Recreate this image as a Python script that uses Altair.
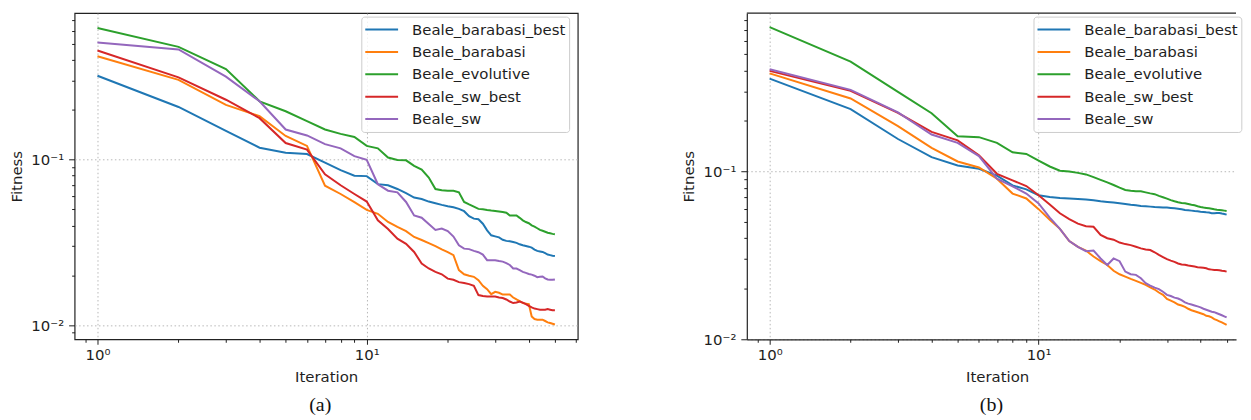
import altair as alt
import pandas as pd

iterations = list(range(1, 51))
series_names = ["Beale_barabasi_best", "Beale_barabasi", "Beale_evolutive", "Beale_sw_best", "Beale_sw"]
series_colors = ["#1f77b4", "#ff7f0e", "#2ca02c", "#d62728", "#9467bd"]

# ---- panel (a) ----
a_barabasi_best = [0.321, 0.208, 0.149, 0.118, 0.110, 0.108, 0.096, 0.0865, 0.0800, 0.0795,
                   0.0711, 0.0700, 0.0665, 0.0627, 0.0590, 0.0578, 0.0558, 0.0545, 0.0533, 0.0523,
                   0.0516, 0.0504, 0.0488, 0.0456, 0.0440, 0.0436, 0.0410, 0.0374, 0.0349, 0.0344,
                   0.0339, 0.0328, 0.0323, 0.0321, 0.0318, 0.0314, 0.0308, 0.0304, 0.0301, 0.0298,
                   0.0294, 0.0286, 0.0281, 0.0279, 0.0277, 0.0272, 0.0267, 0.0265, 0.0263, 0.0262]
a_barabasi = [0.421, 0.303, 0.214, 0.183, 0.139, 0.121, 0.0696, 0.062, 0.0553, 0.0497,
              0.0471, 0.042, 0.0392, 0.037, 0.0341, 0.0327, 0.0313, 0.0300, 0.0287, 0.0276,
              0.0265, 0.0215, 0.0203, 0.0199, 0.0196, 0.0187, 0.0173, 0.0165, 0.0154, 0.0159,
              0.0157, 0.0153, 0.0153, 0.0153, 0.0147, 0.0143, 0.0140, 0.0136, 0.0135, 0.0134,
              0.0113, 0.0109, 0.0108, 0.0108, 0.0108, 0.0106, 0.0104, 0.0103, 0.0102, 0.0101]
a_evolutive = [0.624, 0.480, 0.352, 0.225, 0.196, 0.171, 0.152, 0.143, 0.137, 0.121,
               0.117, 0.103, 0.0996, 0.099, 0.0917, 0.087, 0.078, 0.0664, 0.0653, 0.0649,
               0.0649, 0.0635, 0.0555, 0.0536, 0.052, 0.0504, 0.0502, 0.0497, 0.0493, 0.049,
               0.0486, 0.0482, 0.0478, 0.046, 0.046, 0.046, 0.0445, 0.043, 0.042, 0.0413,
               0.0401, 0.0394, 0.0385, 0.0376, 0.0372, 0.0367, 0.0362, 0.0359, 0.0356, 0.0354]
a_sw_best = [0.456, 0.314, 0.230, 0.178, 0.126, 0.115, 0.0816, 0.070, 0.062, 0.0558,
             0.043, 0.0381, 0.0333, 0.031, 0.0277, 0.0236, 0.022, 0.021, 0.0203, 0.0191,
             0.0188, 0.0182, 0.018, 0.0177, 0.0173, 0.0152, 0.015, 0.0149, 0.0149, 0.0149,
             0.0147, 0.0146, 0.0143, 0.0139, 0.0136, 0.0137, 0.0139, 0.0137, 0.0134, 0.0131,
             0.0128, 0.0126, 0.0125, 0.0124, 0.0124, 0.0124, 0.0125, 0.0124, 0.0123, 0.0123]
a_sw = [0.509, 0.463, 0.317, 0.225, 0.152, 0.140, 0.124, 0.117, 0.105, 0.0996,
        0.071, 0.0649, 0.0634, 0.0555, 0.046, 0.0446, 0.0408, 0.0376, 0.0383, 0.037,
        0.0343, 0.0304, 0.029, 0.0288, 0.0281, 0.0276, 0.0267, 0.0247, 0.0247, 0.0247,
        0.0244, 0.0242, 0.0237, 0.0231, 0.022, 0.022, 0.0215, 0.021, 0.0207, 0.0204,
        0.0202, 0.0199, 0.0195, 0.0196, 0.0197, 0.0192, 0.0189, 0.0188, 0.0188, 0.0189]

# ---- panel (b) ----
b_barabasi_best = [0.357, 0.235, 0.156, 0.1216, 0.1086, 0.1037, 0.0944, 0.0826, 0.0782, 0.0721,
                   0.0705, 0.0695, 0.069, 0.0685, 0.068, 0.0673, 0.0664, 0.0658, 0.0652, 0.0646,
                   0.064, 0.0633, 0.0628, 0.0623, 0.062, 0.0617, 0.0614, 0.0612, 0.0609, 0.0609,
                   0.0606, 0.0603, 0.060, 0.0595, 0.0589, 0.0587, 0.0584, 0.0581, 0.0579, 0.0576,
                   0.0574, 0.0571, 0.0569, 0.0564, 0.0564, 0.0566, 0.0566, 0.0561, 0.0558, 0.0553]
b_barabasi = [0.384, 0.272, 0.186, 0.138, 0.1146, 0.1056, 0.0905, 0.0738, 0.069, 0.0596,
              0.0515, 0.0455, 0.0385, 0.0355, 0.0338, 0.0311, 0.0292, 0.0277, 0.0256, 0.0244,
              0.0236, 0.0229, 0.0223, 0.0217, 0.0211, 0.0204, 0.0198, 0.019, 0.0184, 0.0174,
              0.017, 0.0166, 0.0161, 0.0159, 0.0156, 0.0152, 0.0149, 0.0147, 0.0145, 0.0143,
              0.0141, 0.0138, 0.0137, 0.0135, 0.0132, 0.013, 0.0128, 0.0126, 0.0124, 0.0122]
b_evolutive = [0.724, 0.451, 0.298, 0.222, 0.162, 0.160, 0.148, 0.130, 0.127, 0.116,
               0.107, 0.101, 0.100, 0.098, 0.096, 0.0925, 0.089, 0.086, 0.083, 0.080,
               0.0775, 0.0767, 0.0763, 0.0761, 0.075, 0.074, 0.0732, 0.0715, 0.0702, 0.0689,
               0.0675, 0.0664, 0.0655, 0.0649, 0.0646, 0.064, 0.0633, 0.0628, 0.062, 0.0614,
               0.0609, 0.0606, 0.0603, 0.060, 0.0595, 0.0591, 0.0589, 0.0587, 0.0584, 0.0581]
b_sw_best = [0.397, 0.302, 0.223, 0.172, 0.153, 0.125, 0.0968, 0.0885, 0.0818, 0.0721,
             0.0636, 0.0563, 0.052, 0.0489, 0.0472, 0.0468, 0.0418, 0.040, 0.0392, 0.0377,
             0.0369, 0.0364, 0.0356, 0.0348, 0.0343, 0.034, 0.033, 0.0318, 0.0309, 0.030,
             0.0294, 0.0289, 0.0283, 0.0279, 0.0278, 0.0275, 0.0273, 0.0271, 0.0269, 0.0268,
             0.0267, 0.0265, 0.0261, 0.026, 0.0259, 0.0259, 0.0258, 0.0256, 0.0255, 0.0253]
b_sw = [0.406, 0.306, 0.225, 0.166, 0.148, 0.1235, 0.0905, 0.0815, 0.0738, 0.0644,
        0.053, 0.0455, 0.0385, 0.0355, 0.0335, 0.0338, 0.0303, 0.0277, 0.0303, 0.0292,
        0.0253, 0.0244, 0.0242, 0.0231, 0.0216, 0.0209, 0.0203, 0.0199, 0.0192, 0.0184,
        0.0181, 0.0177, 0.0175, 0.0171, 0.0166, 0.0163, 0.0161, 0.0159, 0.0157, 0.0155,
        0.0152, 0.015, 0.0148, 0.0146, 0.0145, 0.0143, 0.0141, 0.0139, 0.0137, 0.0135]

x_tick_values = [0.9, 1, 2, 3, 4, 5, 6, 7, 8, 9, 10, 20, 30, 40, 50, 60]
a_y_tick_values = [0.009, 0.01, 0.02, 0.03, 0.04, 0.05, 0.06, 0.07, 0.08, 0.09,
                   0.1, 0.2, 0.3, 0.4, 0.5, 0.6, 0.7]
b_y_tick_values = [0.01, 0.02, 0.03, 0.04, 0.05, 0.06, 0.07, 0.08, 0.09,
                   0.1, 0.2, 0.3, 0.4, 0.5, 0.6, 0.7, 0.8]
a_x_domain = [0.8225, 60.8]
b_x_domain = [0.8225, 54.2]   # right part of panel (b) is cut off in the original figure
a_y_domain = [0.00822, 0.767]
b_y_domain = [0.01, 0.877]


def long_frame(series_lists):
    rows = []
    for k, (name, vals) in enumerate(zip(series_names, series_lists)):
        for it, v in zip(iterations, vals):
            rows.append({"Iteration": it, "Fitness": v, "series": name, "k": k})
    return pd.DataFrame(rows)


FONT = "DejaVu Sans"
TXT = "#1e1e1e"
FRAME = "#222222"
H = 328

x_major = "datum.value == 1 || datum.value == 10"
y_major = "datum.value == 0.1 || datum.value == 0.01"


def make_panel(df, width, x_domain, y_domain, y_ticks, caption, full_frame, x_title_x, cap_dx):
    x_axis = alt.Axis(
        values=x_tick_values,
        labelExpr="datum.value == 1 ? '10⁰' : datum.value == 10 ? '10¹' : ''",
        tickSize={"condition": {"test": x_major, "value": 5}, "value": 3},
        gridOpacity={"condition": {"test": x_major, "value": 1}, "value": 0},
        grid=True, gridColor="#b0b0b0", gridDash=[1.5, 2.5], gridWidth=0.9,
        domain=not full_frame, domainColor=FRAME, domainWidth=1.2,
        tickColor=TXT, tickWidth=1,
        labelColor=TXT, labelFont=FONT, labelFontSize=15, labelPadding=3,
        labelOverlap=False, labelFlush=False,
        title="Iteration", titleFont=FONT, titleFontSize=15, titleFontWeight="normal",
        titleColor=TXT, titlePadding=7, titleX=x_title_x,
    )
    y_axis = alt.Axis(
        values=y_ticks,
        labelExpr="datum.value == 0.1 ? '10⁻¹' : datum.value == 0.01 ? '10⁻²' : ''",
        tickSize={"condition": {"test": y_major, "value": 6}, "value": 3},
        gridOpacity={"condition": {"test": y_major, "value": 1}, "value": 0},
        grid=True, gridColor="#b0b0b0", gridDash=[1.5, 2.5], gridWidth=0.9,
        domain=not full_frame, domainColor=FRAME, domainWidth=1.2,
        tickColor=TXT, tickWidth=1,
        labelColor=TXT, labelFont=FONT, labelFontSize=15, labelPadding=5,
        labelOverlap=False, labelFlush=False,
        title="Fitness", titleFont=FONT, titleFontSize=15, titleFontWeight="normal",
        titleColor=TXT, titlePadding=6.5,
    )
    legend = alt.Legend(
        title=None, orient="none", legendX=288.3, legendY=3.5,
        symbolType="stroke", symbolSize=1089, symbolStrokeWidth=2, clipHeight=20,
        labelFont=FONT, labelFontSize=15, labelColor=TXT, labelOffset=13, labelLimit=400,
        rowPadding=2.5, padding=3, fillColor="rgba(255,255,255,0.8)",
        strokeColor="#cccccc", cornerRadius=3,
    )
    lines = alt.Chart(df).mark_line(strokeWidth=2, interpolate="linear").encode(
        x=alt.X("Iteration:Q", scale=alt.Scale(type="log", domain=x_domain, nice=False), axis=x_axis),
        y=alt.Y("Fitness:Q", scale=alt.Scale(type="log", domain=y_domain, nice=False), axis=y_axis),
        color=alt.Color("series:N", scale=alt.Scale(domain=series_names, range=series_colors),
                        legend=legend, sort=series_names),
        order=alt.Order("k:Q"),
    )
    layers = [lines]
    if full_frame:
        view = alt.ViewBackground(stroke=FRAME, strokeWidth=1.2)
    else:
        view = alt.ViewBackground(stroke="transparent")
        top_line = alt.Chart(pd.DataFrame({"edge": ["top"]})).mark_rule(
            color=FRAME, strokeWidth=1.2
        ).encode(x=alt.value(0), x2=alt.value(width), y=alt.value(0))
        layers.append(top_line)
    return alt.layer(*layers).properties(
        width=width, height=H, view=view,
        title=alt.TitleParams(caption, orient="bottom", font="Liberation Serif", fontSize=20,
                              fontWeight="normal", color="#111111", offset=11, dx=cap_dx),
    )


panel_a = make_panel(long_frame([a_barabasi_best, a_barabasi, a_evolutive, a_sw_best, a_sw]),
                     506, a_x_domain, a_y_domain, a_y_tick_values, "(a)", True, 253, -6)
panel_b = make_panel(long_frame([b_barabasi_best, b_barabasi, b_evolutive, b_sw_best, b_sw]),
                     492, b_x_domain, b_y_domain, b_y_tick_values, "(b)", False, 251.7, 0)

chart = alt.hconcat(panel_a, panel_b, spacing=102).resolve_scale(color="independent").properties(
    padding={"left": 0, "top": 2, "right": 0, "bottom": 0}
).configure(background="white")

chart.save("out.html", embed_options={"renderer": "svg", "actions": False})
